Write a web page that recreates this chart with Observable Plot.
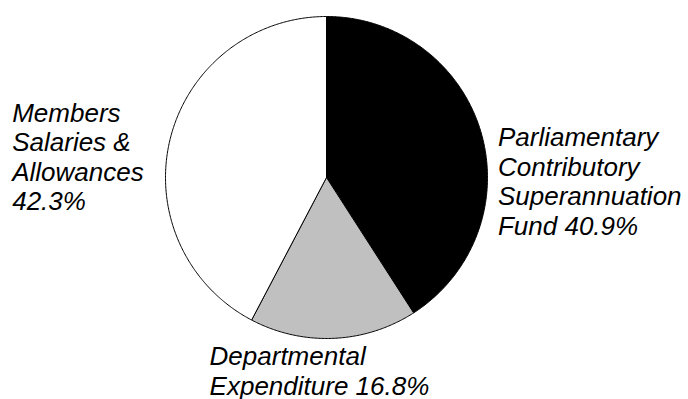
<!DOCTYPE html>
<html>
<head>
<meta charset="utf-8">
<script src="https://cdn.jsdelivr.net/npm/d3@7"></script>
<script src="https://cdn.jsdelivr.net/npm/@observablehq/plot@0.6"></script>
<style>
  html, body { margin: 0; padding: 0; background: #fff; }
  svg { display: block; }
</style>
</head>
<body>
<div id="chart"></div>
<script>
// Data (clockwise from 12 o'clock)
const categories = ["Parliamentary Contributory Superannuation Fund", "Departmental Expenditure", "Members Salaries & Allowances"];
const shares = [40.9, 16.8, 42.3];
const labelLines = [
  "Parliamentary\nContributory\nSuperannuation\nFund 40.9%",
  "Departmental\nExpenditure 16.8%",
  "Members\nSalaries &\nAllowances\n42.3%"
];
const sliceColors = ["#000000", "#c0c0c0", "#ffffff"];

// Layout offsets for labels (pixels, relative to slice mid-point on rim)
const labelOffsets = [
  {dx: 17, dy: -7},
  {dx: -124, dy: 6},
  {dx: -158, dy: -38}
];

// Build slice polygons from shares
const total = d3.sum(shares);
let acc = 0;
const slices = shares.map((v, i) => {
  const a0 = acc / total * 2 * Math.PI;
  acc += v;
  const a1 = acc / total * 2 * Math.PI;
  return {i, name: categories[i], a0, a1, mid: (a0 + a1) / 2};
});
const polyPoints = [];
for (const s of slices) {
  polyPoints.push({name: s.name, x: 0, y: 0});
  const n = Math.max(2, Math.ceil((s.a1 - s.a0) / (Math.PI / 360)));
  for (let k = 0; k <= n; k++) {
    const a = s.a0 + (s.a1 - s.a0) * k / n;
    polyPoints.push({name: s.name, x: Math.sin(a), y: Math.cos(a)});
  }
  polyPoints.push({name: s.name, x: 0, y: 0});
}
const labels = slices.map(s => ({
  name: s.name,
  text: labelLines[s.i],
  x: Math.sin(s.mid),
  y: Math.cos(s.mid),
  dx: labelOffsets[s.i].dx,
  dy: labelOffsets[s.i].dy
}));

const cx = 326, cy = 177, r = 161;
const font = "'Liberation Sans', Arial, Helvetica, sans-serif";

const chart = Plot.plot({
  width: 688,
  height: 399,
  margin: 0,
  style: {background: "#fff", fontFamily: font},
  x: {type: "linear", domain: [-1, 1], range: [cx - r, cx + r], axis: null},
  y: {type: "linear", domain: [-1, 1], range: [cy + r, cy - r], axis: null},
  color: {domain: categories, range: sliceColors},
  marks: [
    Plot.line(polyPoints, {
      x: "x", y: "y", z: "name",
      fill: "name",
      stroke: "#000",
      strokeWidth: 1,
      curve: "linear-closed"
    }),
    ...labels.map(l => Plot.text([l], {
      x: "x", y: "y", text: "text",
      textAnchor: "start",
      lineAnchor: "top",
      lineHeight: 1.135,
      fontSize: 26,
      fontStyle: "italic",
      fill: "#000",
      dx: l.dx, dy: l.dy
    }))
  ]
});
document.getElementById("chart").appendChild(chart);
</script>
</body>
</html>
